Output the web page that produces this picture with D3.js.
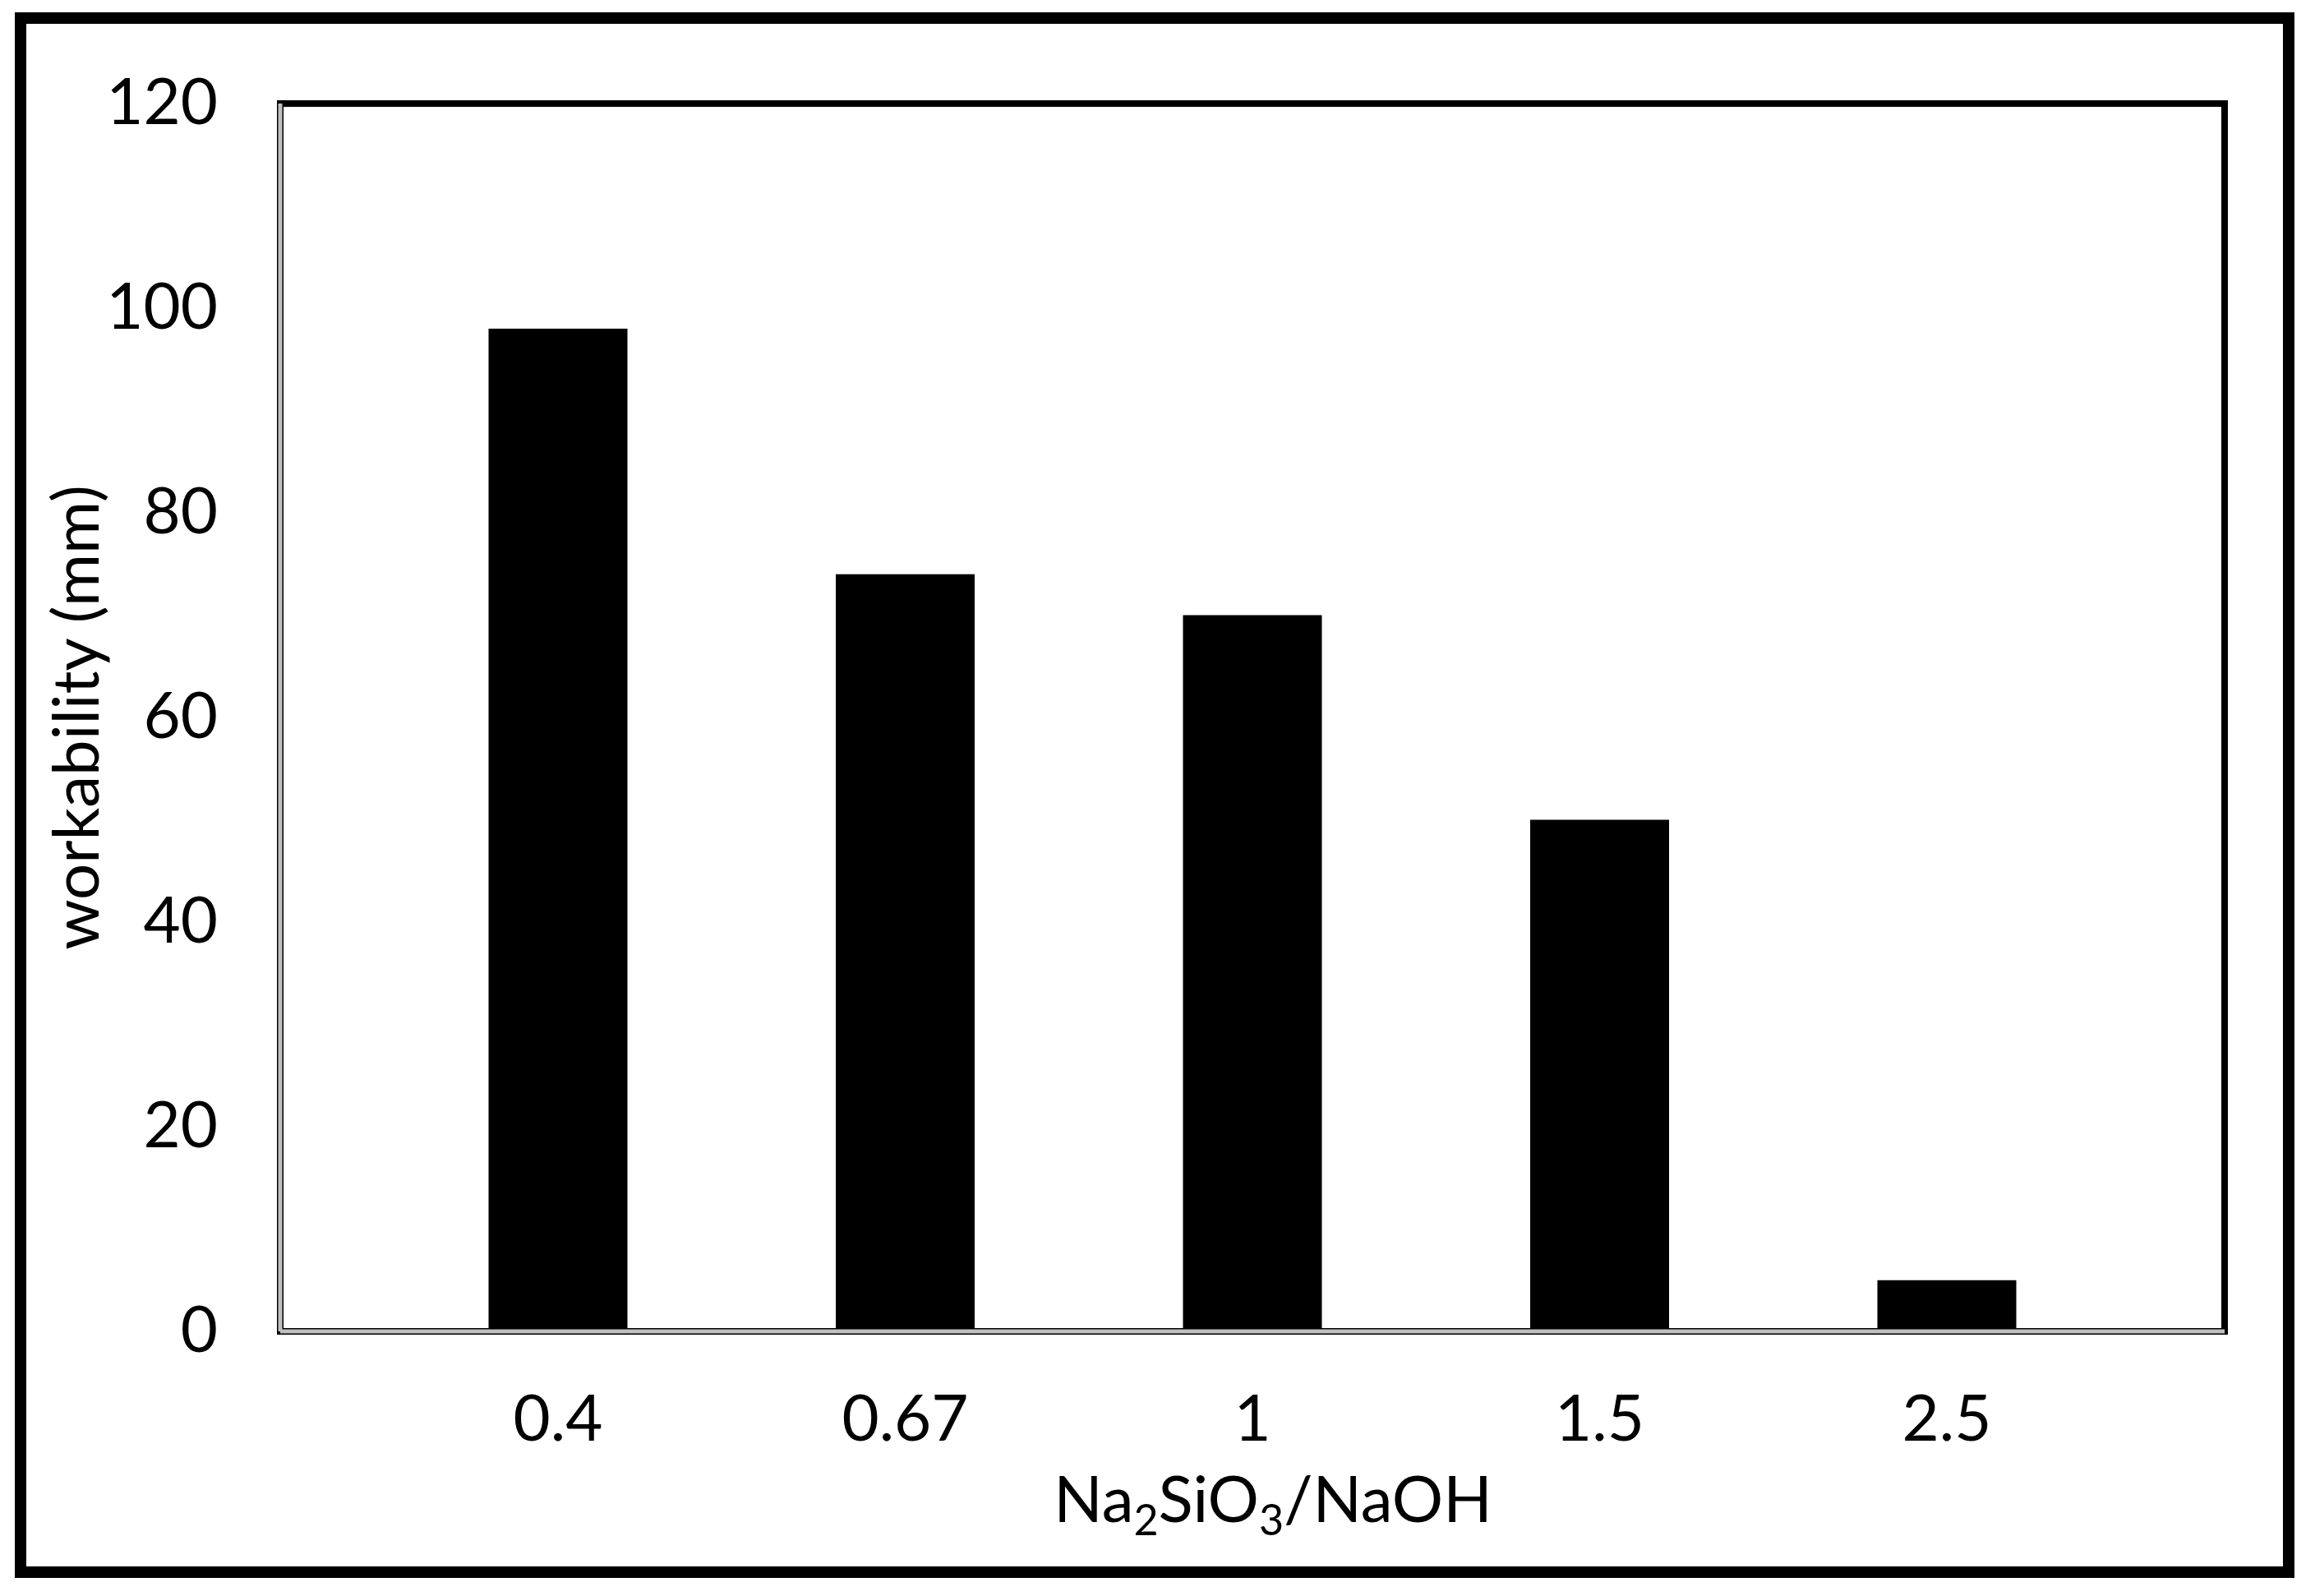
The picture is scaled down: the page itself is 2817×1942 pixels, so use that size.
<!DOCTYPE html>
<html>
<head>
<meta charset="utf-8">
<script src="https://cdn.jsdelivr.net/npm/d3@7"></script>
<style>
  body { margin: 0; background: #fff; }
  text { font-family: Lato, "Open Sans", sans-serif; fill: #000; }
</style>
</head>
<body>
<script>
// data
const ratios = ["0.4", "0.67", "1", "1.5", "2.5"];
const workability = [98, 74, 70, 50, 5];
const yTicks = [0, 20, 40, 60, 80, 100, 120];

const W = 2817, H = 1942;
const plotL = 341, plotR = 2707, plotT = 126, plotB = 1620;
const fs = 78;

const svg = d3.select("body").append("svg")
  .attr("width", W).attr("height", H);

// outer frame
svg.append("rect")
  .attr("x", 25).attr("y", 22)
  .attr("width", 2785 - 25).attr("height", 1913 - 22)
  .attr("fill", "none").attr("stroke", "#000").attr("stroke-width", 14);

const x = d3.scaleBand().domain(ratios).range([plotL, plotR]).padding(0.6);
const y = d3.scaleLinear().domain([0, 120]).range([plotB, plotT]);

// bars
svg.selectAll("rect.bar")
  .data(ratios)
  .enter()
  .append("rect")
  .attr("class", "bar")
  .attr("x", (d) => x(d))
  .attr("y", (d, i) => y(workability[i]))
  .attr("width", x.bandwidth())
  .attr("height", (d, i) => y(0) - y(workability[i]))
  .attr("fill", "#000");

// plot frame: black top/right, grey left/bottom
svg.append("rect")
  .attr("x", plotL).attr("y", plotT)
  .attr("width", plotR - plotL).attr("height", plotB - plotT)
  .attr("fill", "none").attr("stroke", "#000").attr("stroke-width", 8);
[[plotL, plotT, plotL, plotB], [plotL, plotB, plotR, plotB]].forEach((l) => {
  svg.append("line")
    .attr("x1", l[0]).attr("y1", l[1]).attr("x2", l[2]).attr("y2", l[3])
    .attr("stroke", "#c0c0c0").attr("stroke-width", 5);
});

// y axis labels
svg.append("g")
  .attr("transform", `translate(${plotL},0)`)
  .call(d3.axisLeft(y).tickValues(yTicks).tickSize(0).tickPadding(76))
  .call((g) => g.select(".domain").remove())
  .selectAll("text")
  .attr("font-size", fs)
  .attr("font-family", "Lato, 'Open Sans', sans-serif");

// x axis labels
svg.append("g")
  .attr("transform", `translate(0,${plotB})`)
  .call(d3.axisBottom(x).tickSize(0).tickPadding(78))
  .call((g) => g.select(".domain").remove())
  .selectAll("text")
  .attr("font-size", fs)
  .attr("font-family", "Lato, 'Open Sans', sans-serif");

// axis titles
const xt = svg.append("text")
  .attr("x", 1549).attr("y", 1852)
  .attr("text-anchor", "middle")
  .attr("font-size", fs);
xt.append("tspan").text("Na");
xt.append("tspan").attr("font-size", 52).attr("dy", 16).text("2");
xt.append("tspan").attr("dy", -16).text("SiO");
xt.append("tspan").attr("font-size", 52).attr("dy", 16).text("3");
xt.append("tspan").attr("dy", -16).text("/NaOH");

svg.append("text")
  .attr("transform", "translate(120,873) rotate(-90)")
  .attr("text-anchor", "middle")
  .attr("font-size", fs)
  .text("workability (mm)");
</script>
</body>
</html>
